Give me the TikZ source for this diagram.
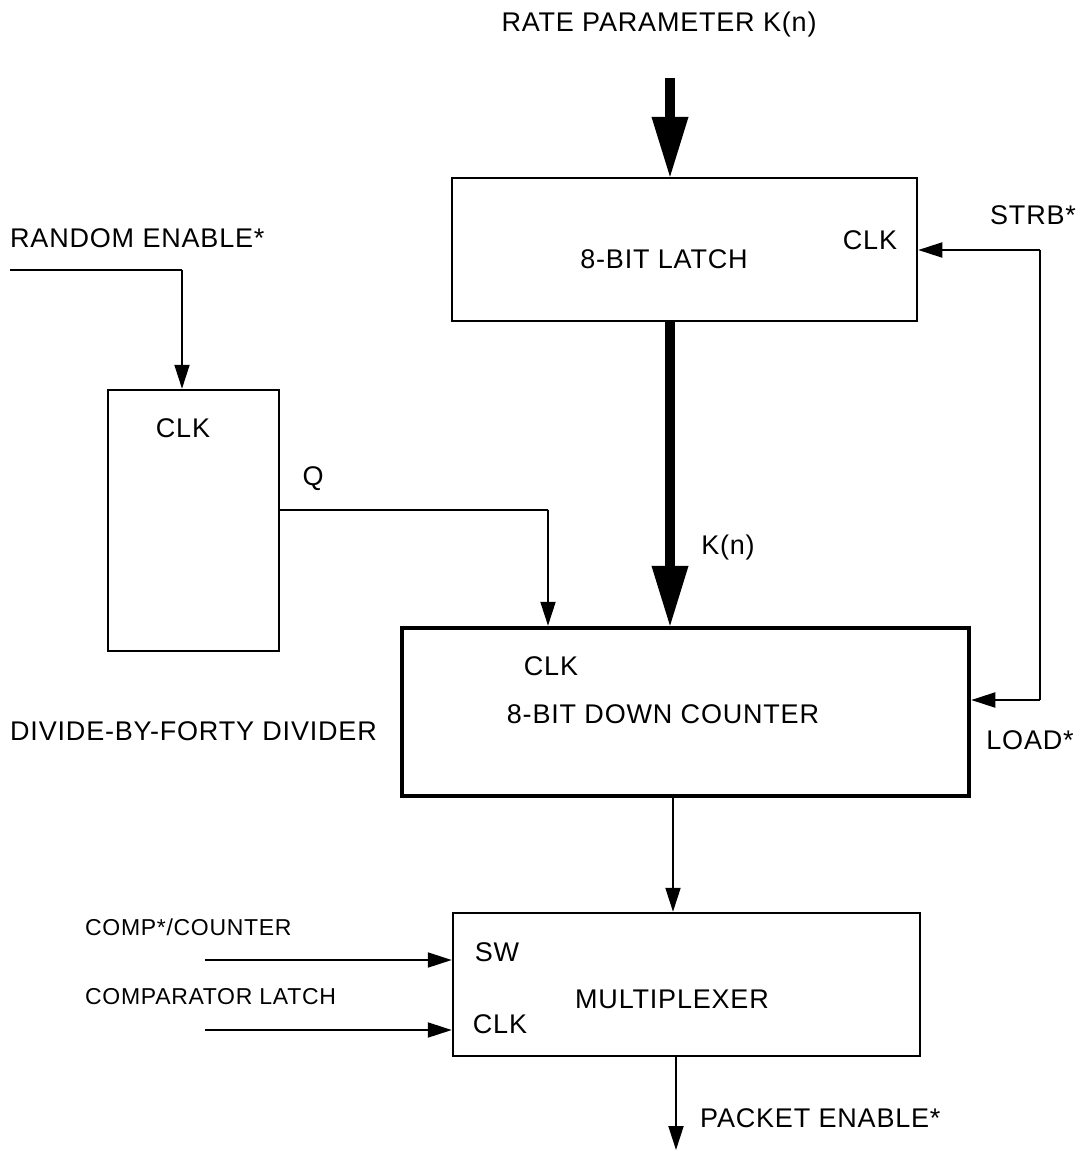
\documentclass[tikz,border=0pt]{standalone}
\usepackage{fontspec}
\setmainfont{Liberation Sans}[LetterSpace=3]
\usetikzlibrary{arrows.meta}
\begin{document}
\begin{tikzpicture}[x=1pt,y=-1pt,
  lbl/.style={inner sep=0pt,font=\fontsize{27}{30}\selectfont},
  slbl/.style={inner sep=0pt,font=\fontsize{23}{27}\selectfont},
  blk/.style={draw,line width=2.5pt,minimum width=#1,inner sep=0pt},
  sig/.style={line width=2pt,-{Triangle[length=24pt,width=15pt]}},
  wire/.style={line width=2pt},
  bus/.style={line width=10pt,-{Triangle[length=62pt,width=34pt]},shorten >=-2pt}]
\useasboundingbox (0,0) rectangle (1089,1156);
% blocks
\node[blk=465pt,minimum height=143pt] (latch) at (684.5,249.5) {};
\node[blk=171pt,minimum height=261pt] (div) at (193.5,520.5) {};
\node[blk=567pt,minimum height=168pt,line width=4.5pt] (counter) at (685.5,712) {};
\node[blk=467pt,minimum height=143pt] (mux) at (686.5,984.5) {};
% texts
\node[lbl] (tRate) at (659,25) {RATE PARAMETER K(n)};
\node[lbl] (tLatch) at (664,259) {8-BIT LATCH};
\node[lbl] (tLclk) at (870,240) {CLK};
\node[lbl] (tStrb) at (1033,215) {STRB*};
\node[lbl,anchor=west] (tRand) at (10,238) {RANDOM ENABLE*};
\node[lbl] (tDclk) at (183,428) {CLK};
\node[lbl] (tQ) at (313,479) {Q};
\node[lbl] (tKn) at (728,548) {K(n)};
\node[lbl,anchor=west] (tDiv) at (10,731) {DIVIDE-BY-FORTY DIVIDER};
\node[lbl] (tCclk) at (551,666) {CLK};
\node[lbl] (tCnt) at (663,714) {8-BIT DOWN COUNTER};
\node[lbl] (tLoad) at (1030,740) {LOAD*};
\node[slbl,anchor=west] (tComp) at (85,927) {COMP*/COUNTER};
\node[slbl,anchor=west] (tCompL) at (85,997) {COMPARATOR LATCH};
\node[lbl] (tSw) at (497,952) {SW};
\node[lbl] (tMclk) at (500,1024) {CLK};
\node[lbl] (tMux) at (672,999) {MULTIPLEXER};
\node[lbl,anchor=west] (tPe) at (700,1118) {PACKET ENABLE*};
% connector coordinates
\coordinate (rp) at (670,78);
\coordinate (strb) at (1040,250);
\coordinate (ld) at (1040,700);
\coordinate (re) at (10,270);
\coordinate (reb) at (182,270);
\coordinate (q) at (548,510);
\coordinate (cm) at (673,0);
\coordinate (sw) at (205,960);
\coordinate (cl) at (205,1030);
\coordinate (pe) at (676,1150);
% connectors
\draw[bus] (rp) -- (rp |- latch.north);
\draw[bus] (rp |- latch.south) -- (rp |- counter.north);
\draw[sig] (strb) -- (strb -| latch.east);
\draw[wire] (strb) -- (ld);
\draw[sig] (ld) -- (ld -| counter.east);
\draw[wire] (re) -- (reb);
\draw[sig] (reb) -- (reb |- div.north);
\draw[wire] (q -| div.east) -- (q);
\draw[sig] (q) -- (q |- counter.north);
\draw[sig] (counter.south -| cm) -- (cm |- mux.north);
\draw[sig] (sw) -- (sw -| mux.west);
\draw[sig] (cl) -- (cl -| mux.west);
\draw[sig] (pe |- mux.south) -- (pe);
\end{tikzpicture}
\end{document}
